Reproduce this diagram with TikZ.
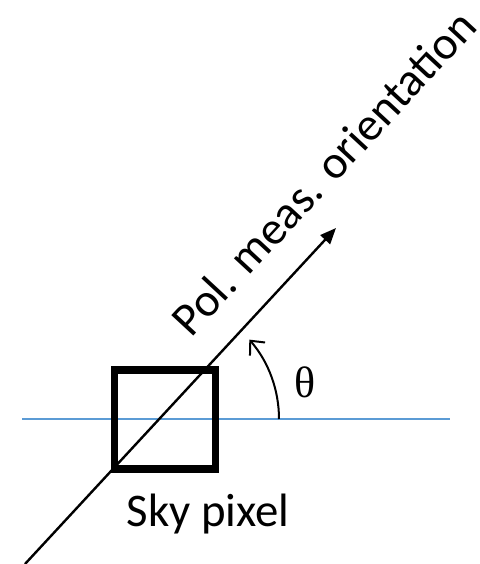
\documentclass[tikz,border=0pt]{standalone}
\usepackage{fontspec}
\setmainfont{Carlito}
\newfontfamily\thetafont{Liberation Serif}
\usepackage{tikz}
\usetikzlibrary{arrows.meta, positioning, calc}
\definecolor{horizonblue}{HTML}{5B9BD5}

\begin{document}
\begin{tikzpicture}[x=0.5pt, y=-0.5pt,
    pixelbox/.style={
        draw=black,
        line width=3.75pt,
        minimum width=50.5pt,
        minimum height=49.5pt,
        inner sep=0pt
    },
    orientline/.style={
        line width=1.2pt,
        -{Triangle[length=8pt, width=6.5pt]}
    },
    anglearc/.style={
        line width=1pt,
        -{Straight Barb[length=5.5pt, width=10pt]}
    },
    labeltext/.style={
        font=\fontsize{23.4}{28}\selectfont,
        inner sep=0pt
    }
]
\useasboundingbox (0,0) rectangle (479,564);

% Horizontal reference line
\coordinate (hleft) at (22,419);
\coordinate (hright) at (450,419);
\draw[horizonblue, line width=0.75pt] (hleft) -- (hright);

% Sky pixel
\node[pixelbox] (pixel) at (165,419.5) {};
\node[labeltext, anchor=base] (pixlabel) at (208,526) {Sky pixel};

% Polarization measurement orientation
\coordinate (start) at (25,564);
\coordinate (tip) at (336,228);
\draw[orientline] (start) -- (tip);
\node[labeltext, rotate=47.2, anchor=base west] (orientlabel) at (191,339) {Pol. meas. orientation};

% Angle theta
\coordinate (arcstart) at (279,419);
\draw[anglearc] (arcstart) arc[start angle=0, end angle=-41, radius=121];
\node[labeltext, font=\thetafont\fontsize{22}{26}\selectfont] (theta) at (305,382) {θ};

\end{tikzpicture}
\end{document}
